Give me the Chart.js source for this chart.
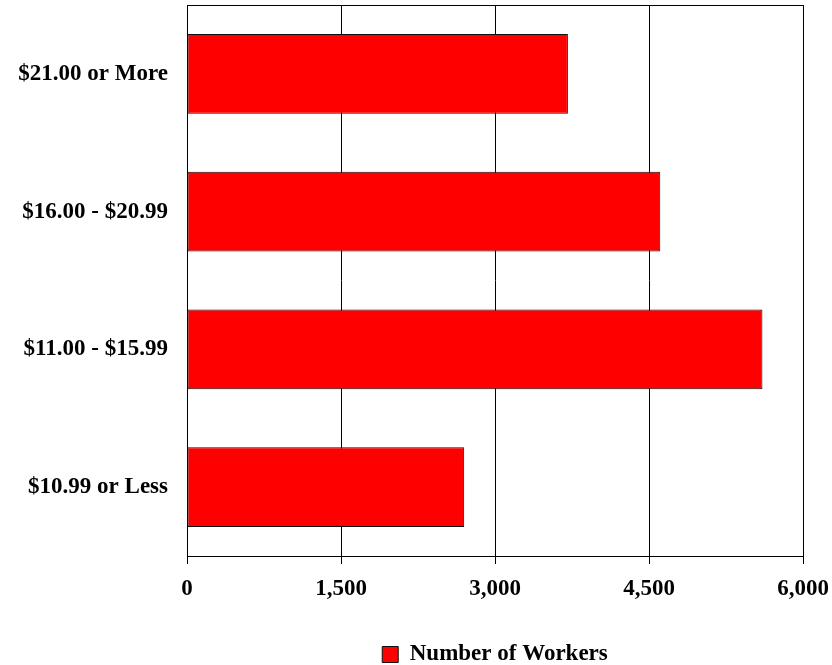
<!DOCTYPE html>
<html lang="en">
<head>
    <meta charset="UTF-8">
    <title>Number of Workers by Hourly Wage</title>
    <script src="https://cdn.jsdelivr.net/npm/chart.js"></script>
    <style>
        html, body { margin: 0; padding: 0; background: #fff; }
        #wrap { width: 832px; height: 665px; }
    </style>
</head>
<body>
    <div id="wrap"><canvas id="wageChart" width="832" height="665"></canvas></div>

    <script>
        // wage bands, top to bottom as shown
        const wageBands = ["$21.00 or More", "$16.00 - $20.99", "$11.00 - $15.99", "$10.99 or Less"];
        const workers = [3710, 4610, 5605, 2700];
        const xTicks = [0, 1500, 3000, 4500, 6000];

        const fontFamily = "'Liberation Serif', 'Times New Roman', serif";
        const labelFont = { family: fontFamily, size: 23, weight: "bold" };

        // outline round the plot area, and legend centred under the plot
        const frame = {
            id: "frame",
            afterLayout(chart) {
                const lg = chart.legend, a = chart.chartArea;
                const d = (a.left + a.right) / 2 - (lg.left + lg.right) / 2;
                lg.left += d;
                lg.right += d;
                lg.top += 11;
                lg.bottom += 11;
            },
            afterDraw(chart) {
                const { ctx, chartArea: a } = chart;
                ctx.save();
                ctx.strokeStyle = "#000";
                ctx.lineWidth = 1;
                ctx.strokeRect(Math.round(a.left) + 0.5, Math.round(a.top) + 0.5,
                    Math.round(a.right - a.left), Math.round(a.bottom - a.top));
                ctx.restore();
            }
        };

        const ctx = document.getElementById("wageChart").getContext("2d");
        new Chart(ctx, {
            type: "bar",
            data: {
                labels: wageBands,
                datasets: [{
                    label: "Number of Workers",
                    data: workers,
                    backgroundColor: "#ff0000",
                    borderColor: "#111",
                    borderWidth: 1,
                    borderSkipped: false,
                    categoryPercentage: 1,
                    barPercentage: 0.58
                }]
            },
            options: {
                indexAxis: "y",
                responsive: false,
                animation: false,
                layout: { padding: { top: 5, right: 29, bottom: 0, left: 0 } },
                plugins: {
                    tooltip: { enabled: false },
                    legend: {
                        position: "bottom",
                        labels: {
                            color: "#000",
                            boxWidth: 16,
                            boxHeight: 16,
                            padding: 10,
                            font: labelFont
                        }
                    }
                },
                scales: {
                    x: {
                        min: 0,
                        max: 6000,
                        afterBuildTicks: (scale) => { scale.ticks = xTicks.map(v => ({ value: v })); },
                        afterFit: (scale) => {
                            scale.height = 66;
                            scale.paddingLeft = 0;
                            scale.paddingRight = 0;
                        },
                        grid: { color: "#000", lineWidth: 1, tickLength: 8 },
                        border: { color: "#000" },
                        ticks: {
                            color: "#000",
                            padding: 11,
                            maxRotation: 0,
                            font: labelFont,
                            callback: (v) => Number(v).toLocaleString("en-US")
                        }
                    },
                    y: {
                        afterFit: (scale) => {
                            scale.width = 187;
                            scale.paddingTop = 0;
                            scale.paddingBottom = 0;
                        },
                        grid: { display: false },
                        border: { color: "#000" },
                        ticks: {
                            color: "#000",
                            padding: 11,
                            font: labelFont
                        }
                    }
                }
            },
            plugins: [frame]
        });
    </script>
</body>
</html>
